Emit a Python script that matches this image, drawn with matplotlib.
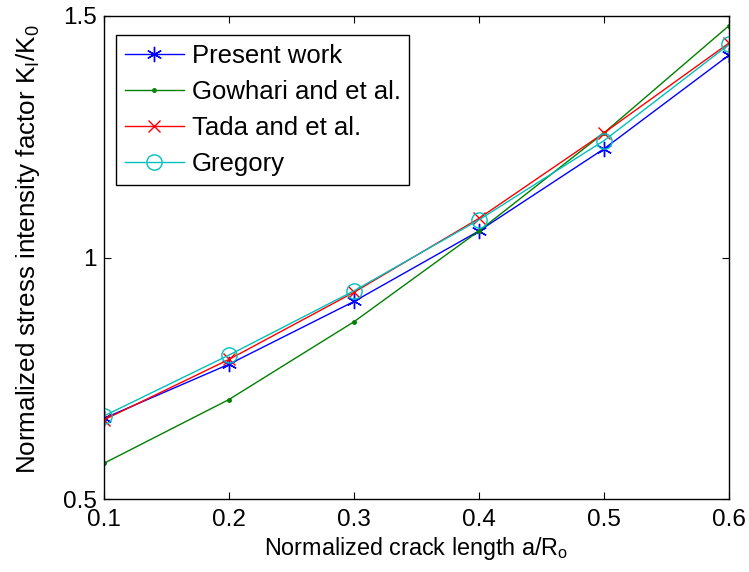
import matplotlib
matplotlib.use("Agg")
import matplotlib.pyplot as plt

plt.rcParams['font.family'] = ['Liberation Sans', 'DejaVu Sans']
plt.rcParams['mathtext.fontset'] = 'custom'
plt.rcParams['mathtext.rm'] = 'Liberation Sans'

x = [0.1, 0.2, 0.3, 0.4, 0.5, 0.6]
present = [0.667, 0.779, 0.909, 1.055, 1.225, 1.419]
gowhari = [0.574, 0.706, 0.867, 1.055, 1.258, 1.480]
tada = [0.664, 0.789, 0.928, 1.081, 1.258, 1.444]
gregory = [0.672, 0.798, 0.931, 1.078, 1.242, 1.441]

labels = ['Present work', 'Gowhari and et al.', 'Tada and et al.', 'Gregory']
xticks = [0.1, 0.2, 0.3, 0.4, 0.5, 0.6]
yticks = [0.5, 1.0, 1.5]
yticklabels = ['0.5', '1', '1.5']

fig = plt.figure(figsize=(7.49, 5.72), dpi=100)
ax = fig.add_axes([104/749, 1 - 499/572, (729-104)/749, (499-16)/572])

ax.plot(x, present, color=(0, 0, 1), lw=1.0, marker=(6, 2, 0), ms=11, mew=1.0, label=labels[0])
ax.plot(x, gowhari, color=(0, 0.5, 0), lw=1.0, marker='.', ms=5, label=labels[1])
ax.plot(x, tada, color=(1, 0, 0), lw=1.0, marker='x', ms=8, mew=1.0, label=labels[2])
ax.plot(x, gregory, color=(0, 0.75, 0.75), lw=1.0, marker='o', ms=11, mfc='none', mew=1.0, label=labels[3])

ax.set_xlim(0.1, 0.6)
ax.set_ylim(0.5, 1.5)
ax.set_xticks(xticks)
ax.set_xticklabels([f'{v:.1f}' for v in xticks])
ax.set_yticks(yticks)
ax.set_yticklabels(yticklabels)
ax.tick_params(direction='in', top=True, right=True, length=5, width=0.8, labelsize=17.5)
ax.tick_params(axis='x', pad=7)
ax.tick_params(axis='y', pad=5)
for s in ax.spines.values():
    s.set_linewidth(1.0)

ax.set_xlabel('Normalized crack length a/R$_\\mathregular{o}$', fontsize=16.8, labelpad=3)
ax.set_ylabel('Normalized stress intensity factor K$_\\mathregular{I}$/K$_\\mathregular{0}$', fontsize=18.7, labelpad=15)
ax.yaxis.label.set_y(0.518)

leg = ax.legend(loc='upper left', bbox_to_anchor=((116-104)/625, 1 - (35-16)/483), fontsize=18.5,
                frameon=True, fancybox=False, edgecolor='black', framealpha=1,
                handlelength=2.3, handletextpad=0.3, labelspacing=0.47, borderpad=0.34, borderaxespad=0)
leg.get_frame().set_linewidth(1.0)

fig.savefig('out.png', dpi=100)
